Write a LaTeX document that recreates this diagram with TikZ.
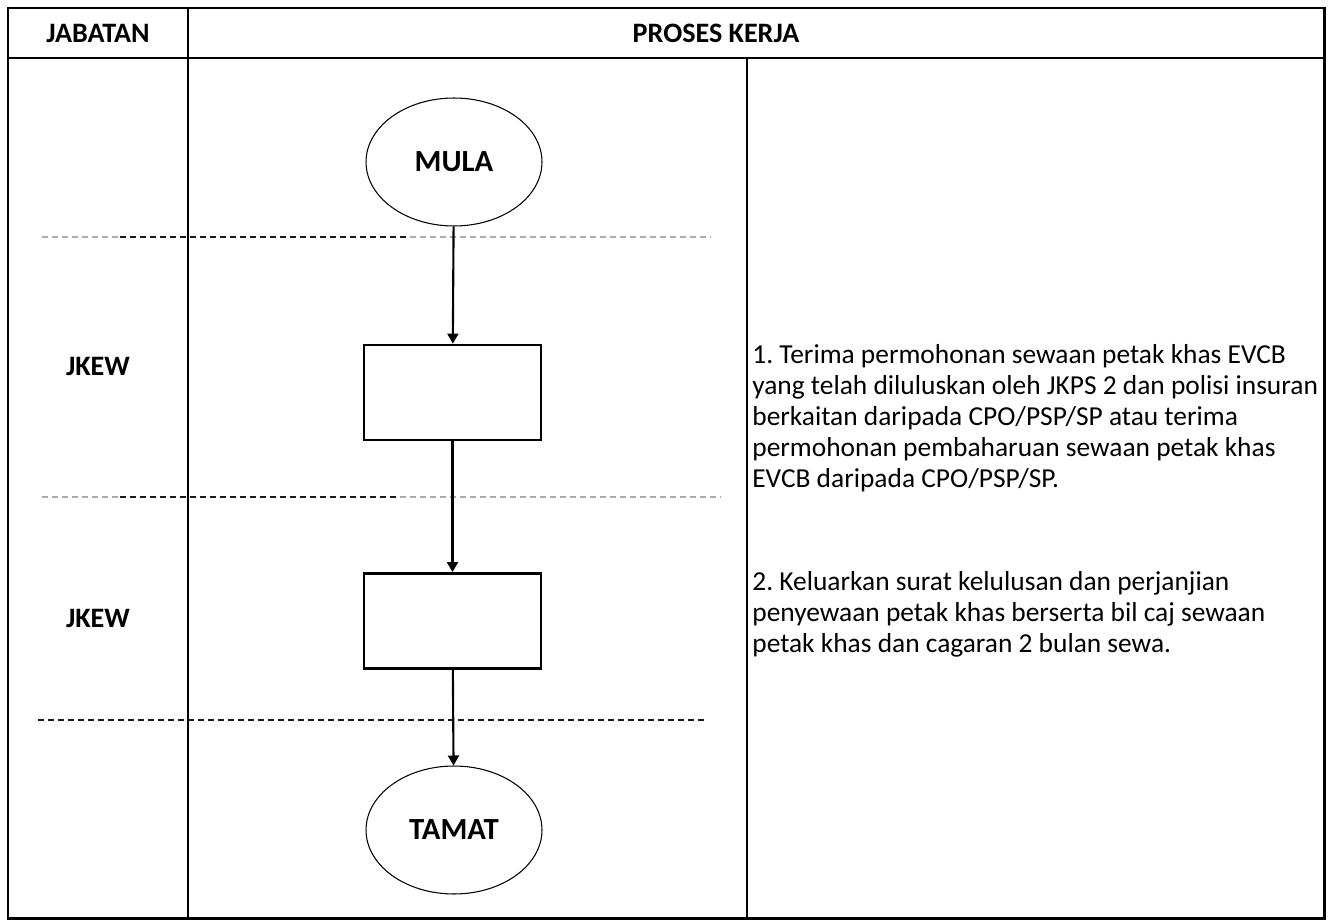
\documentclass[tikz,border=0pt]{standalone}
\usepackage{fontspec}
\setmainfont{Carlito}
\usetikzlibrary{positioning,arrows.meta,shapes.geometric}
\definecolor{garisgelap}{RGB}{25,25,25}
\definecolor{garispudar}{RGB}{170,170,170}

\begin{document}
\frenchspacing
\begin{tikzpicture}[x=0.02cm, y=-0.02cm,
    font=\fontsize{15.6}{17.6}\selectfont, >={Triangle[length=2mm, width=2.2mm]},
    tajuk/.style={font=\fontsize{16}{18}\selectfont\bfseries},
    terminal/.style={draw, ellipse, line width=0.6pt, minimum width=3.52cm,
                     minimum height=2.56cm, font=\fontsize{17.5}{19}\selectfont\bfseries},
    proses/.style={draw, line width=1.6pt, minimum width=3.54cm, minimum height=1.9cm},
    keterangan/.style={anchor=north west, align=left, inner sep=0pt},
    sempadan/.style={dash pattern=on 0.12cm off 0.08cm, line width=0.9pt},
    aliran/.style={->, line width=1.2pt}]
  \useasboundingbox (0,0) rectangle (1328,922);
  % jadual
  \draw[line width=1.7pt] (8,8) rectangle (1324,918);
  \draw[line width=1.4pt] (8,58) -- (1324,58);
  \draw[line width=1.2pt] (188,8) -- (188,918);
  \draw[line width=1.2pt] (747,58) -- (747,918);
  \node[tajuk] (jabatan) at (98,33) {JABATAN};
  \node[tajuk] (proses) at (716,33) {PROSES KERJA};
  % garis sempadan
  \draw[sempadan, garispudar] (42,237) -- (120,237);
  \draw[sempadan, garisgelap] (120,237) -- (410,237);
  \draw[sempadan, garispudar] (410,237) -- (710,237);
  \draw[sempadan, garispudar] (42,497) -- (120,497);
  \draw[sempadan, garisgelap] (120,497) -- (400,497);
  \draw[sempadan, garispudar] (400,497) -- (720,497);
  \draw[sempadan, garisgelap] (38,720) -- (705,720);
  % carta alir
  \node[terminal] (mula) at (454,162) {MULA};
  \node[proses] (langkah1) at (452.5,392.5) {};
  \node[proses] (langkah2) at (452.5,621) {};
  \node[terminal] (tamat) at (454,830) {TAMAT};
  \draw[aliran] (mula) -- (langkah1);
  \draw[aliran] (langkah1) -- (langkah2);
  \draw[aliran] (langkah2) -- (tamat);
  \node[tajuk] (jkew1) at (98,366) {JKEW};
  \node[tajuk] (jkew2) at (98,618) {JKEW};
  % keterangan
  \node[keterangan] (ket1) at (752,344) {1. Terima permohonan sewaan petak khas EVCB\\
    yang telah diluluskan oleh JKPS 2 dan polisi insuran\\
    berkaitan daripada CPO/PSP/SP atau terima\\
    permohonan pembaharuan sewaan petak khas\\
    EVCB daripada CPO/PSP/SP.};
  \node[keterangan] (ket2) at (752,571) {2. Keluarkan surat kelulusan dan perjanjian\\
    penyewaan petak khas berserta bil caj sewaan\\
    petak khas dan cagaran 2 bulan sewa.};
\end{tikzpicture}
\end{document}
